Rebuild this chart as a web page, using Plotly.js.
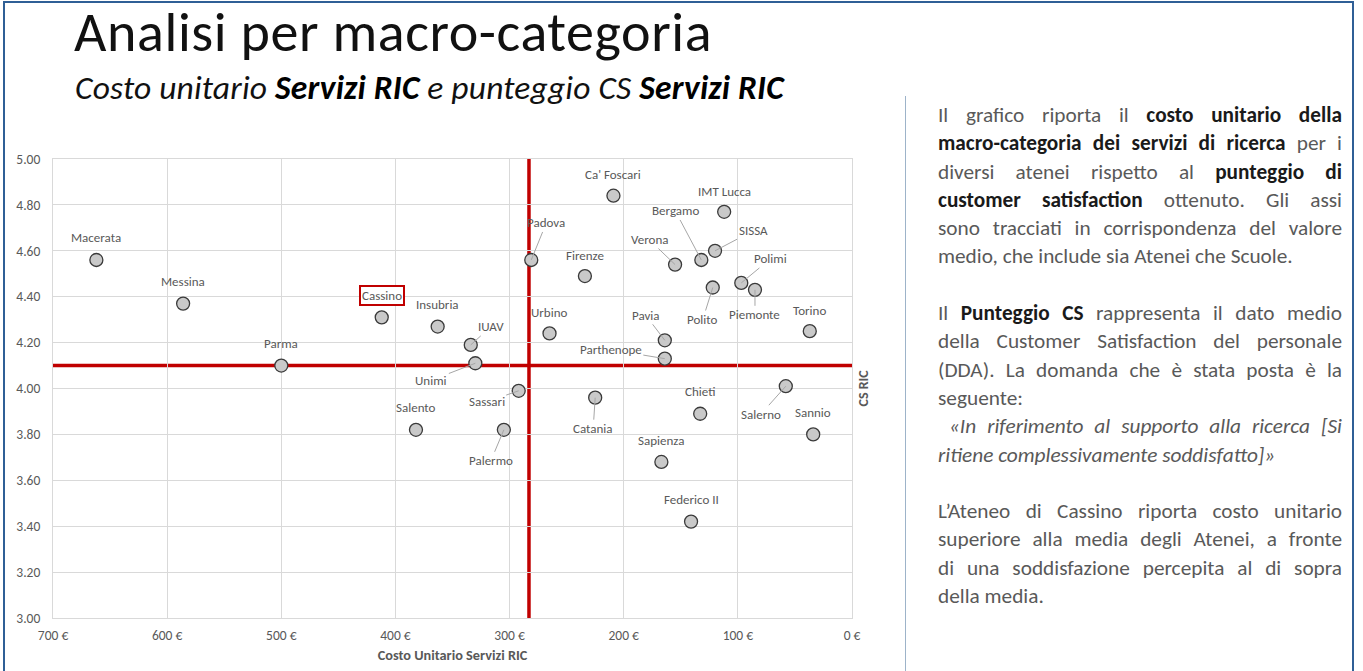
<!DOCTYPE html>
<html>
<head>
<meta charset="utf-8">
<script src="https://cdn.plot.ly/plotly-3.0.1.min.js"></script>
<style>
  html, body { margin:0; padding:0; background:#ffffff; }
  body { width:1363px; height:671px; position:relative; overflow:hidden; font-family: Carlito, Lato, sans-serif; }
  #frame { position:absolute; left:3px; top:1px; width:1351px; height:700px; border:2px solid #2f5f96; box-sizing:border-box; z-index:3; pointer-events:none; }
  #chart { position:absolute; left:0; top:0; width:900px; height:671px; z-index:1; }
  #title { position:absolute; left:74px; top:8px; height:48px; font-size:56px; letter-spacing:0.6px; font-weight:300; color:#111; line-height:48px; white-space:nowrap; z-index:2; }
  #subtitle { position:absolute; left:75px; top:73px; height:30px; font-size:33.5px; letter-spacing:0.2px; font-style:italic; color:#111; line-height:30px; white-space:nowrap; z-index:2; }
  #subtitle b { font-weight:700; color:#000; }
  #sep { position:absolute; left:905px; top:96px; width:1px; height:600px; background:#9db3c9; z-index:2; }
  #side { position:absolute; left:938px; top:101px; width:404px; font-size:21.3px; line-height:28.3px; color:#595959; z-index:2; }
  #side .j { text-align:justify; text-align-last:justify; white-space:nowrap; }
  #side .l { text-align:left; white-space:nowrap; }
  #side .gap { height:28.3px; }
  #side b { color:#1a1a1a; font-weight:700; }
  #side i { font-style:italic; }
</style>
</head>
<body>
<div id="frame"></div>
<div id="title">Analisi per macro-categoria</div>
<div id="subtitle">Costo unitario <b>Servizi RIC</b> e punteggio CS <b>Servizi RIC</b></div>
<div id="sep"></div>
<div id="side">
  <div class="j">Il grafico riporta il <b>costo unitario della</b></div>
  <div class="j"><b>macro-categoria dei servizi di ricerca</b> per i</div>
  <div class="j">diversi atenei rispetto al <b>punteggio di</b></div>
  <div class="j"><b>customer satisfaction</b> ottenuto. Gli assi</div>
  <div class="j">sono tracciati in corrispondenza del valore</div>
  <div class="l">medio, che include sia Atenei che Scuole.</div>
  <div class="gap"></div>
  <div class="j">Il <b>Punteggio CS</b> rappresenta il dato medio</div>
  <div class="j">della Customer Satisfaction del personale</div>
  <div class="j">(DDA). La domanda che è stata posta è la</div>
  <div class="l">seguente:</div>
  <div class="j"><i>&nbsp;«In riferimento al supporto alla ricerca [Si</i></div>
  <div class="l"><i>ritiene complessivamente soddisfatto]»</i></div>
  <div class="gap"></div>
  <div class="j">L’Ateneo di Cassino riporta costo unitario</div>
  <div class="j">superiore alla media degli Atenei, a fronte</div>
  <div class="j">di una soddisfazione percepita al di sopra</div>
  <div class="l">della media.</div>
</div>
<div id="chart"></div>
<script>
// ---- data ----
const atenei = ["Macerata","Messina","Parma","Cassino","Insubria","IUAV","Unimi","Padova","Ca' Foscari","Firenze",
  "Urbino","Verona","Bergamo","SISSA","IMT Lucca","Polito","Polimi","Piemonte","Torino","Pavia",
  "Parthenope","Salerno","Sassari","Catania","Chieti","Sannio","Salento","Palermo","Sapienza","Federico II"];
const costoUnitario = [662,586,500,412,363,334,330,281,209,234,
  265,155,132,120,112,122,97,85,37,164,
  164,58,292,225,133,34,382,305,167,141];
const punteggioCS = [4.56,4.37,4.10,4.31,4.27,4.19,4.11,4.56,4.84,4.49,
  4.24,4.54,4.56,4.60,4.77,4.44,4.46,4.43,4.25,4.21,
  4.13,4.01,3.99,3.96,3.89,3.80,3.82,3.82,3.68,3.42];
const mediaCosto = 283;
const mediaCS = 4.10;
const xTicks = [700,600,500,400,300,200,100,0];
const yTicks = [3.00,3.20,3.40,3.60,3.80,4.00,4.20,4.40,4.60,4.80,5.00];
const titoloX = "Costo Unitario Servizi RIC";
const titoloY = "CS RIC";
const evidenziato = "Cassino";

// ---- label placement (pixel offsets from the point, [dx, dy, leader]) ----
const labelPos = {
  "Macerata":[0,-22,0],"Messina":[0,-22,0],"Parma":[0,-22,0],"Cassino":[0,-22,0],"Insubria":[0,-22,0],
  "IUAV":[20,-18,1],"Unimi":[-44,17,1],"Padova":[15,-37,1],"Ca' Foscari":[0,-21,0],"Firenze":[0,-21,0],
  "Urbino":[0,-21,0],"Verona":[-26,-25,1],"Bergamo":[-26,-49,1],"SISSA":[38,-20,1],"IMT Lucca":[0,-20,0],
  "Polito":[-10,32,1],"Polimi":[29,-24,1],"Piemonte":[0,25,1],"Torino":[0,-21,0],"Pavia":[-19,-25,1],
  "Parthenope":[-54,-9,1],"Salerno":[-25,28,1],"Sassari":[-32,11,1],"Catania":[-2,31,1],"Chieti":[0,-22,0],
  "Sannio":[0,-22,0],"Salento":[0,-22,0],"Palermo":[-13,31,1],"Sapienza":[0,-21,0],"Federico II":[0,-22,0]
};

const FONT = "Carlito, Lato, sans-serif";
const GREY = "#595959";

const annotations = atenei.map((name, i) => {
  const p = labelPos[name] || [0,-22,0];
  const a = {
    x: costoUnitario[i], y: punteggioCS[i], xref:'x', yref:'y',
    text: name, font:{family:FONT, size:13, color:GREY}
  };
  if (p[2]) {
    Object.assign(a, {showarrow:true, ax:p[0], ay:p[1], arrowhead:0, arrowwidth:1, arrowcolor:'#a6a6a6', standoff:0});
  } else {
    Object.assign(a, {showarrow:false, xshift:p[0], yshift:-p[1]});
  }
  if (name === evidenziato) {
    Object.assign(a, {bordercolor:'#c00000', borderwidth:2, borderpad:1, bgcolor:'#ffffff'});
  }
  return a;
});
annotations.push({
  xref:'paper', yref:'paper', x:1.0138, y:0.5, xanchor:'center', yanchor:'middle',
  text:'<b>'+titoloY+'</b>', textangle:-90, showarrow:false,
  font:{family:FONT, size:14, color:GREY}
});

const trace = {
  type:'scatter', mode:'markers',
  x: costoUnitario, y: punteggioCS, text: atenei,
  marker:{size:13, color:'#c9c9c9', line:{color:'#3a3a3a', width:1.3}},
  hoverinfo:'text+x+y', showlegend:false
};

const layout = {
  width:900, height:671,
  margin:{l:53, r:48, t:159, b:53, pad:0},
  paper_bgcolor:'rgba(0,0,0,0)', plot_bgcolor:'#ffffff',
  font:{family:FONT, color:GREY},
  showlegend:false,
  xaxis:{
    range:[700,0], autorange:false, tickvals:xTicks, ticktext:xTicks.map(v => v + ' €'),
    showgrid:true, gridcolor:'#d9d9d9', gridwidth:1, zeroline:false,
    showline:true, mirror:true, linecolor:'#d9d9d9', linewidth:1,
    ticks:'', ticklabelstandoff:5, tickfont:{family:FONT, size:13.5, color:GREY},
    title:{text:'<b>'+titoloX+'</b>', font:{family:FONT, size:14.3, color:GREY}, standoff:6},
    automargin:false
  },
  yaxis:{
    range:[3,5], autorange:false, tickvals:yTicks, tickformat:'.2f',
    showgrid:true, gridcolor:'#d9d9d9', gridwidth:1, zeroline:false,
    showline:true, mirror:true, linecolor:'#d9d9d9', linewidth:1,
    ticks:'', ticklabelstandoff:9, tickfont:{family:FONT, size:13.5, color:GREY},
    automargin:false
  },
  shapes:[
    {type:'line', xref:'x', yref:'y', x0:mediaCosto, x1:mediaCosto, y0:3, y1:5, line:{color:'#c00000', width:3.5}, layer:'below'},
    {type:'line', xref:'x', yref:'y', x0:700, x1:0, y0:mediaCS, y1:mediaCS, line:{color:'#c00000', width:3.5}, layer:'below'}
  ],
  annotations: annotations
};

Plotly.newPlot('chart', [trace], layout, {displayModeBar:false, staticPlot:true});
</script>
</body>
</html>
